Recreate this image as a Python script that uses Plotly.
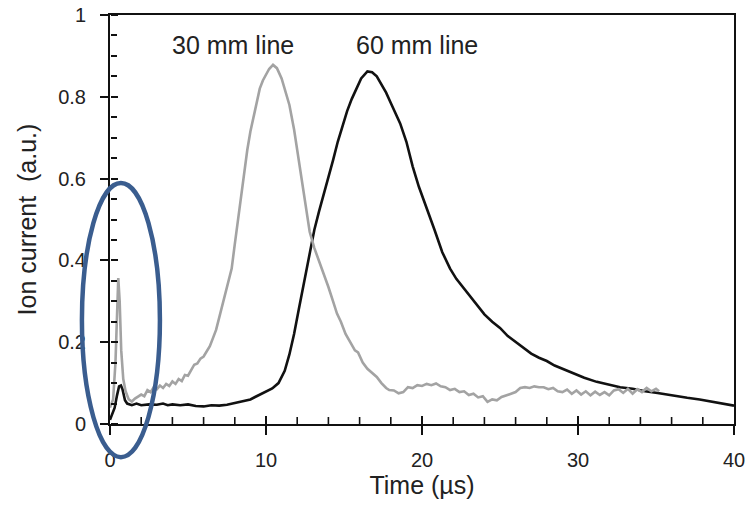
import plotly.graph_objects as go

# 30 mm line (gray)
t30 = [0.0, 0.2, 0.35, 0.45, 0.53, 0.62, 0.72, 0.85, 1.0, 1.2, 1.4, 1.6, 1.8, 2.0, 2.2, 2.4, 2.6, 2.8,
       3.0, 3.2, 3.4, 3.6, 3.8, 4.0, 4.2, 4.4, 4.6, 4.8, 5.0, 5.2, 5.4, 5.6, 5.8, 6.0, 6.2, 6.4, 6.6,
       6.8, 7.0, 7.2, 7.4, 7.6, 7.8, 8.0, 8.2, 8.4, 8.6, 8.8, 9.0, 9.2, 9.4, 9.6, 9.8, 10.0, 10.2,
       10.45, 10.7, 11.0, 11.2, 11.5, 11.8, 12.0, 12.2, 12.5, 12.8, 13.1, 13.4, 13.7, 14.0, 14.3,
       14.55, 14.8, 15.1, 15.4, 15.7, 15.9, 16.2, 16.5, 16.8, 17.1, 17.4, 17.7, 17.9, 18.2, 18.5,
       18.8, 19.1, 19.4, 19.7, 20.0, 20.3, 20.6, 20.9, 21.2, 21.5, 21.8, 22.1, 22.4, 22.7, 23.0,
       23.3, 23.6, 23.9, 24.2, 24.5, 24.8, 25.1, 25.4, 25.7, 26.0, 26.3, 26.6, 26.9, 27.2, 27.5,
       27.8, 28.1, 28.4, 28.7, 29.0, 29.3, 29.6, 29.9, 30.2, 30.5, 30.8, 31.1, 31.4, 31.7, 32.0,
       32.3, 32.6, 32.9, 33.2, 33.5, 33.8, 34.1, 34.4, 34.7, 35.0, 35.2]
i30 = [0.04, 0.06, 0.15, 0.30, 0.357, 0.30, 0.18, 0.11, 0.08, 0.06, 0.055, 0.062, 0.066, 0.072, 0.068,
       0.083, 0.078, 0.09, 0.085, 0.094, 0.088, 0.098, 0.093, 0.104, 0.098, 0.11, 0.105, 0.12, 0.118,
       0.13, 0.145, 0.148, 0.16, 0.165, 0.178, 0.19, 0.21, 0.23, 0.26, 0.29, 0.32, 0.35, 0.38, 0.44,
       0.50, 0.56, 0.62, 0.67, 0.715, 0.75, 0.79, 0.82, 0.84, 0.855, 0.868, 0.878, 0.87, 0.845, 0.82,
       0.78, 0.72, 0.67, 0.62, 0.55, 0.47, 0.43, 0.40, 0.37, 0.335, 0.30, 0.27, 0.25, 0.22, 0.20,
       0.18, 0.175, 0.15, 0.135, 0.125, 0.115, 0.10, 0.088, 0.083, 0.082, 0.075, 0.078, 0.09, 0.088,
       0.095, 0.093, 0.098, 0.095, 0.099, 0.092, 0.09, 0.083, 0.086, 0.078, 0.08, 0.071, 0.074, 0.065,
       0.068, 0.054, 0.06, 0.058, 0.066, 0.07, 0.074, 0.078, 0.088, 0.09, 0.088, 0.092, 0.09, 0.09,
       0.085, 0.088, 0.08, 0.078, 0.084, 0.074, 0.082, 0.072, 0.08, 0.07, 0.079, 0.071, 0.078, 0.07,
       0.082, 0.085, 0.076, 0.086, 0.074, 0.085, 0.078, 0.088, 0.08, 0.086, 0.08]

# 60 mm line (black)
t60 = [0.0, 0.1, 0.3, 0.45, 0.58, 0.7, 0.8, 0.96, 1.1, 1.4, 1.7, 2.0, 2.5, 3.0, 3.4, 3.7, 4.0, 4.5,
       5.0, 5.5, 6.0, 6.5, 7.0, 7.5, 8.0, 8.5, 9.0, 9.3, 9.8, 10.4, 10.8, 11.2, 11.5, 11.8, 12.1,
       12.4, 12.8, 13.1, 13.4, 13.7, 14.0, 14.3, 14.6, 14.9, 15.2, 15.5, 15.8, 16.1, 16.5, 16.8,
       17.1, 17.4, 17.7, 18.0, 18.3, 18.6, 19.0, 19.4, 19.8, 20.3, 20.8, 21.3, 21.8, 22.2, 22.6,
       23.0, 23.5, 24.0, 24.5, 25.0, 25.5, 26.1, 26.6, 27.0, 27.5, 28.0, 28.5, 29.0, 29.7, 30.4,
       31.2, 32.0, 32.7, 33.5, 34.3, 35.1, 36.0, 37.0, 37.8, 38.7, 39.3, 40.0]
i60 = [0.01, 0.022, 0.04, 0.07, 0.092, 0.094, 0.085, 0.058, 0.05, 0.046, 0.05, 0.046, 0.048, 0.047,
       0.05, 0.046, 0.048, 0.046, 0.048, 0.044, 0.043, 0.046, 0.045, 0.047, 0.051, 0.056, 0.06, 0.066,
       0.075, 0.087, 0.1, 0.13, 0.17, 0.22, 0.28, 0.34, 0.42, 0.475, 0.52, 0.56, 0.60, 0.645, 0.69,
       0.73, 0.765, 0.795, 0.82, 0.845, 0.862, 0.86, 0.85, 0.83, 0.81, 0.785, 0.76, 0.735, 0.69, 0.63,
       0.58, 0.53, 0.475, 0.42, 0.38, 0.355, 0.335, 0.315, 0.29, 0.268, 0.25, 0.235, 0.215, 0.198,
       0.183, 0.172, 0.162, 0.154, 0.143, 0.135, 0.125, 0.113, 0.103, 0.096, 0.09, 0.086, 0.08, 0.076,
       0.07, 0.064, 0.06, 0.054, 0.05, 0.045]

# tick positions along the time axis (inner halves of the ticks)
x_major_ticks = [10, 20, 30]
x_minor_ticks = [2, 4, 6, 8, 12, 14, 16, 18, 22, 24, 26, 28, 32, 34, 36, 38]

labels = ["30 mm line", "60 mm line"]
label_t = [7.9, 19.7]
label_y = [0.927, 0.927]

FONT = "Liberation Sans, Arial, sans-serif"
INK = "#111111"
PLOT_H = 507 - 15 - 83  # plot-area height in px, to express tick length on the value scale


def tick_segments(vals, length_px):
    xs, ys = [], []
    h = length_px / PLOT_H
    for v in vals:
        xs += [v, v, None]
        ys += [0, h, None]
    return xs, ys


fig = go.Figure()
fig.add_trace(go.Scatter(x=t60, y=i60, mode="lines", line=dict(color=INK, width=2.6),
                         showlegend=False, hoverinfo="skip"))
mx, my = tick_segments(x_minor_ticks, 7)
fig.add_trace(go.Scatter(x=mx, y=my, mode="lines", line=dict(color=INK, width=1.6),
                         showlegend=False, hoverinfo="skip"))
Mx, My = tick_segments(x_major_ticks, 8)
fig.add_trace(go.Scatter(x=Mx, y=My, mode="lines", line=dict(color=INK, width=2),
                         showlegend=False, hoverinfo="skip"))
fig.add_trace(go.Scatter(x=t30, y=i30, mode="lines", line=dict(color="#a3a3a3", width=2.6),
                         xaxis="x2", yaxis="y2", showlegend=False, hoverinfo="skip"))

for txt, tx, ty in zip(labels, label_t, label_y):
    fig.add_annotation(x=tx, y=ty, xref="x", yref="y", text=txt, showarrow=False,
                       font=dict(family=FONT, size=25, color="#222222"))

fig.add_shape(type="circle", xref="paper", yref="paper", x0=-0.045, x1=0.080, y0=-0.081, y1=0.589,
              line=dict(color="#3a5d8f", width=4.5))

fig.update_layout(
    width=745, height=507,
    margin=dict(l=110, r=11, t=15, b=83),
    paper_bgcolor="white", plot_bgcolor="rgba(0,0,0,0)",
    font=dict(family=FONT, size=20, color="#222222"),
    xaxis=dict(range=[0, 40], dtick=10, tick0=0, ticks="outside", ticklen=9, tickwidth=2,
               tickcolor=INK, showline=True, linecolor=INK, linewidth=2, mirror=True,
               showgrid=False, zeroline=False, ticklabelstandoff=8, automargin=False,
               ticklabeloverflow="allow",
               title=dict(text="Time (µs)", font=dict(size=25), standoff=4),
               tickfont=dict(size=20)),
    yaxis=dict(range=[0, 1], dtick=0.2, tick0=0, ticks="outside", ticklen=8, tickwidth=2,
               tickcolor=INK, showline=True, linecolor=INK, linewidth=2, mirror=True,
               showgrid=False, zeroline=False, ticklabelstandoff=10, automargin=False,
               ticklabeloverflow="allow",
               title=dict(text="Ion current  (a.u.)", font=dict(size=25), standoff=14),
               tickfont=dict(size=20)),
    xaxis2=dict(overlaying="x", anchor="y2", range=[0, 40], visible=False, automargin=False),
    yaxis2=dict(overlaying="y", side="right", anchor="free", position=0, range=[0, 1],
                dtick=0.2, tick0=0, ticks="outside", ticklen=7, tickwidth=2, tickcolor=INK,
                showticklabels=False, showline=False, showgrid=False, zeroline=False,
                automargin=False,
                minor=dict(ticks="outside", dtick=0.05, tick0=0, ticklen=6, tickwidth=1.5,
                           tickcolor=INK, showgrid=False)),
)

fig.write_html("out.html")
